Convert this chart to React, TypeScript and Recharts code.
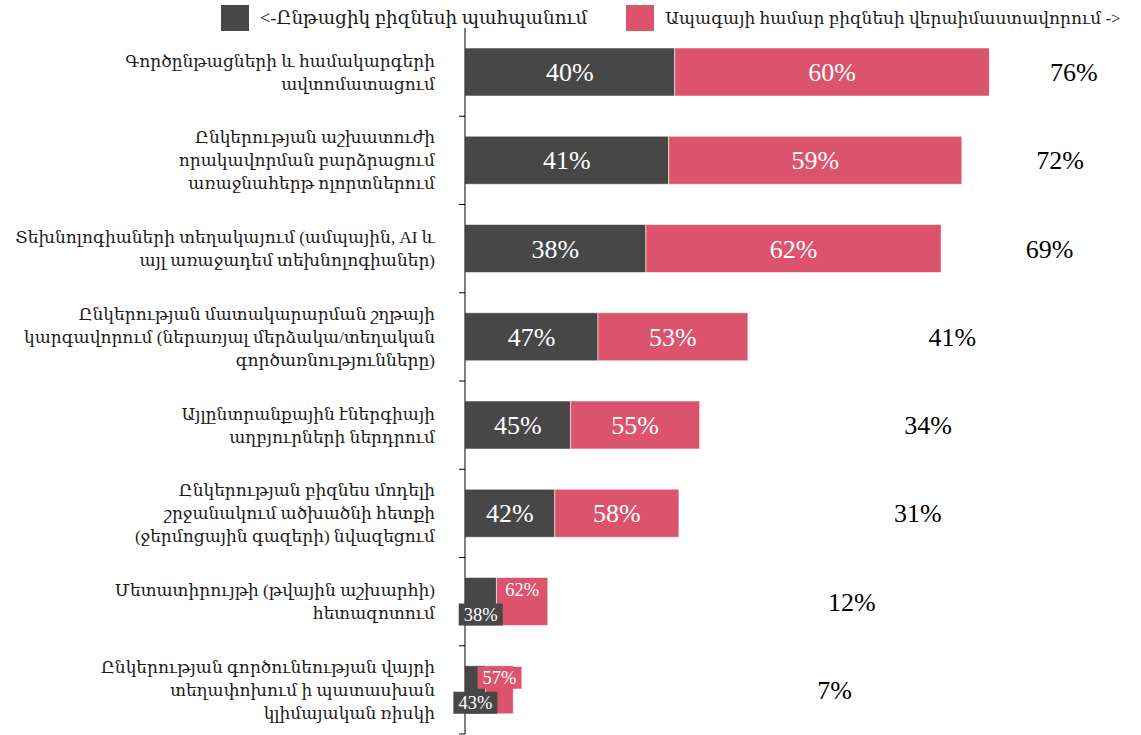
import React from "react";
import { BarChart, Bar, XAxis, YAxis, LabelList, Legend } from "recharts";

const categories = [
  "Գործընթացների և համակարգերի\nավտոմատացում",
  "Ընկերության աշխատուժի\nորակավորման բարձրացում\nառաջնահերթ ոլորտներում",
  "Տեխնոլոգիաների տեղակայում (ամպային, AI և\nայլ առաջադեմ տեխնոլոգիաներ)",
  "Ընկերության մատակարարման շղթայի\nկարգավորում (ներառյալ մերձակա/տեղական\nգործառնությունները)",
  "Այլընտրանքային էներգիայի\nաղբյուրների ներդրում",
  "Ընկերության բիզնես մոդելի\nշրջանակում ածխածնի հետքի\n(ջերմոցային գազերի) նվազեցում",
  "Մետատիրույթի (թվային աշխարհի)\nհետազոտում",
  "Ընկերության գործունեության վայրի\nտեղափոխում ի պատասխան\nկլիմայական ռիսկի",
];

// share of respondents naming the priority (bar length)
const totals = [76, 72, 69, 41, 34, 31, 12, 7];
// split of each bar
const currentShare = [40, 41, 38, 47, 45, 42, 38, 43];
const futureShare = [60, 59, 62, 53, 55, 58, 62, 57];

const seriesNames = [
  "<-Ընթացիկ բիզնեսի պահպանում",
  "Ապագայի համար բիզնեսի վերաիմաստավորում ->",
];

const FONT = "'Liberation Serif', 'DejaVu Serif', serif";
const DARK = "#474747";
const RED = "#db546b";
const colors = [DARK, RED];

const data = categories.map((name, i) => ({
  name,
  total: totals[i],
  current: (totals[i] * currentShare[i]) / 100,
  future: (totals[i] * futureShare[i]) / 100,
  currentShare: currentShare[i],
  futureShare: futureShare[i],
}));

const CategoryTick = (props: any) => {
  const { x, y, payload } = props;
  const lines = String(payload.value).split("\n");
  const half = payload.offset > 0 ? payload.offset : 44.1;
  const axisX = x + 30;
  const lh = 23;
  return (
    <g>
      <line x1={axisX - 6} x2={axisX} y1={y + half} y2={y + half} stroke="#000" />
      <text x={x} y={y} textAnchor="end" fontSize={17} fill="#1a1a1a" fontFamily={FONT}>
        {lines.map((l, i) => (
          <tspan key={i} x={x} dy={i === 0 ? -((lines.length - 1) * lh) / 2 + 6 : lh}>
            {l}
          </tspan>
        ))}
      </text>
    </g>
  );
};

const segmentLabel = (which: "current" | "future") => (props: any) => {
  const { x, y, width, height, value } = props;
  const text = `${value}%`;
  const cx = x + width / 2;
  if (width > 60) {
    return (
      <text x={cx} y={y + height / 2} dy="0.35em" textAnchor="middle" fill="#fff" fontSize={26} fontFamily={FONT}>
        {text}
      </text>
    );
  }
  const bw = 44;
  const bh = 22;
  const by = which === "current" ? y + height - bh : y + 1;
  return (
    <g>
      <rect x={cx - bw / 2} y={by} width={bw} height={bh} fill={which === "current" ? DARK : RED} />
      <text x={cx} y={by + bh / 2} dy="0.35em" textAnchor="middle" fill="#fff" fontSize={18.5} fontFamily={FONT}>
        {text}
      </text>
    </g>
  );
};

const TotalLabel = (props: any) => {
  const { x, y, width, height, value } = props;
  return (
    <text x={x + width} y={y + height / 2} dy="0.35em" textAnchor="middle" fill="#000" fontSize={26} fontFamily={FONT}>
      {`${value}%`}
    </text>
  );
};

const legendSizes = [18.4, 17];

const LegendContent = () => (
  <div style={{ display: "flex", alignItems: "center", color: "#1a1a1a", fontFamily: FONT, whiteSpace: "nowrap" }}>
    {seriesNames.map((n, i) => (
      <div key={n} style={{ display: "flex", alignItems: "center", marginRight: i === 0 ? 39 : 0 }}>
        <span style={{ display: "inline-block", width: 28, height: 26, background: colors[i], marginRight: 11 }} />
        <span style={{ fontSize: legendSizes[i] }}>{n}</span>
      </div>
    ))}
  </div>
);

export default function App() {
  return (
    <div style={{ fontFamily: FONT }}>
      <style>{"body{margin:0}"}</style>
      <BarChart
        width={1141}
        height={735}
        data={data}
        layout="vertical"
        margin={{ top: 28, right: 55, bottom: 1, left: 0 }}
      >
        <XAxis type="number" domain={[0, 90]} hide />
        <XAxis xAxisId="total" type="number" domain={[-99.5, 79.5]} hide />
        <YAxis
          type="category"
          dataKey="name"
          width={465}
          axisLine={{ stroke: "#000" }}
          tickLine={false}
          tickSize={6}
          tickMargin={24}
          tick={<CategoryTick />}
          interval={0}
        />
        <YAxis yAxisId="total" type="category" dataKey="name" hide />
        <Legend
          verticalAlign="middle"
          align="center"
          content={<LegendContent />}
          wrapperStyle={{ top: 5, left: 221, width: "auto" }}
        />
        <Bar
          dataKey="current"
          stackId="a"
          fill={DARK}
          stroke="rgba(255,255,255,0.55)"
          barSize={48}
          isAnimationActive={false}
        >
          <LabelList dataKey="currentShare" content={segmentLabel("current")} />
        </Bar>
        <Bar
          dataKey="future"
          stackId="a"
          fill={RED}
          stroke="rgba(255,255,255,0.55)"
          barSize={48}
          isAnimationActive={false}
        >
          <LabelList dataKey="futureShare" content={segmentLabel("future")} />
        </Bar>
        <Bar
          dataKey="total"
          xAxisId="total"
          yAxisId="total"
          fill="transparent"
          barSize={48}
          isAnimationActive={false}
        >
          <LabelList dataKey="total" content={<TotalLabel />} />
        </Bar>
      </BarChart>
    </div>
  );
}
